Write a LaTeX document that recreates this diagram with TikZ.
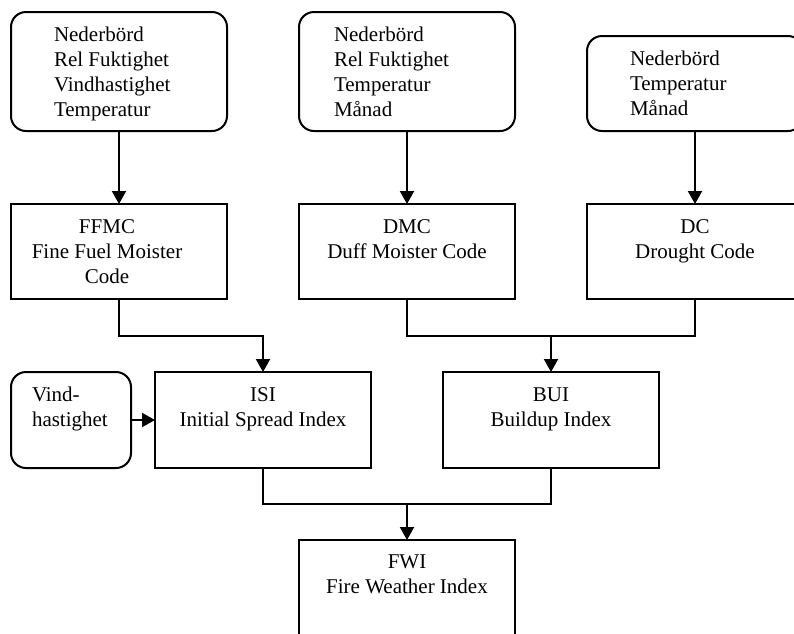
\documentclass[tikz,border=0pt]{standalone}
\usepackage{fontspec}
\setmainfont{Liberation Serif}
\usetikzlibrary{arrows.meta}

\begin{document}
\begin{tikzpicture}[y=1pt, x=1pt, yscale=-1, inner sep=0pt, outer sep=0pt,
    box/.style={draw=black, line width=2pt, minimum width=216pt, minimum height=95pt},
    rbox/.style={box, rounded corners=15pt},
    txt/.style={font=\fontsize{21}{25}\selectfont},
    arr/.style={draw=black, line width=2pt, -{Triangle[length=13pt, width=14pt]}},
    conn/.style={draw=black, line width=2pt}]
\useasboundingbox (0,0) rectangle (794,633);
\clip (0,0) rectangle (794,633);
  \node[rbox, minimum height=119pt] (rect1) at (119,71.5) {};
  \node[rbox, minimum height=119pt] (rect2) at (407,71.5) {};
  \node[rbox] (rect3) at (695,83.5) {};
  \node[box] (ffmc) at (119,251.5) {};
  \node[box] (dmc) at (407,251.5) {};
  \node[box] (dc) at (695,251.5) {};
  \node[rbox, minimum width=120pt, minimum height=96pt] (vind) at (71,420) {};
  \node[box, minimum height=96pt] (isi) at (263,420) {};
  \node[box, minimum height=96pt] (bui) at (551,420) {};
  \node[box, minimum height=110pt] (fwi) at (407,595) {};

  \node[txt, anchor=base west, align=left] (text1) at (54,116)
    {Nederbörd\\Rel Fuktighet\\Vindhastighet\\Temperatur};
  \node[txt, anchor=base west, align=left] (text2) at (334,116)
    {Nederbörd\\Rel Fuktighet\\Temperatur\\Månad};
  \node[txt, anchor=base west, align=left] (text3) at (630,115)
    {Nederbörd\\Temperatur\\Månad};
  \node[txt, anchor=base, align=center] (text4) at (107,283)
    {FFMC\\Fine Fuel Moister\\Code};
  \node[txt, anchor=base, align=center] (text5) at (407,258)
    {DMC\\Duff Moister Code};
  \node[txt, anchor=base, align=center] (text6) at (695,258)
    {DC\\Drought Code};
  \node[txt, anchor=base west, align=left] (text7) at (32,426)
    {Vind-\\hastighet};
  \node[txt, anchor=base, align=center] (text8) at (263,426)
    {ISI\\Initial Spread Index};
  \node[txt, anchor=base, align=center] (text9) at (551,426)
    {BUI\\Buildup Index};
  \node[txt, anchor=base, align=center] (text10) at (407,593)
    {FWI\\Fire Weather Index};

  \coordinate (isiIn) at (263,336);
  \coordinate (buiIn) at (551,336);
  \coordinate (fwiIn) at (407,504);

  \draw[arr] (rect1) -- (ffmc);
  \draw[arr] (rect2) -- (dmc);
  \draw[arr] (rect3) -- (dc);
  \draw[arr] (ffmc.south) |- (isiIn) -- (isi.north);
  \draw[conn] (dmc.south) |- (buiIn) -| (dc.south);
  \draw[arr] (buiIn) -- (bui.north);
  \draw[arr] (vind) -- (isi);
  \draw[conn] (isi.south) |- (fwiIn) -| (bui.south);
  \draw[arr] (fwiIn) -- (fwi.north);
\end{tikzpicture}
\end{document}
